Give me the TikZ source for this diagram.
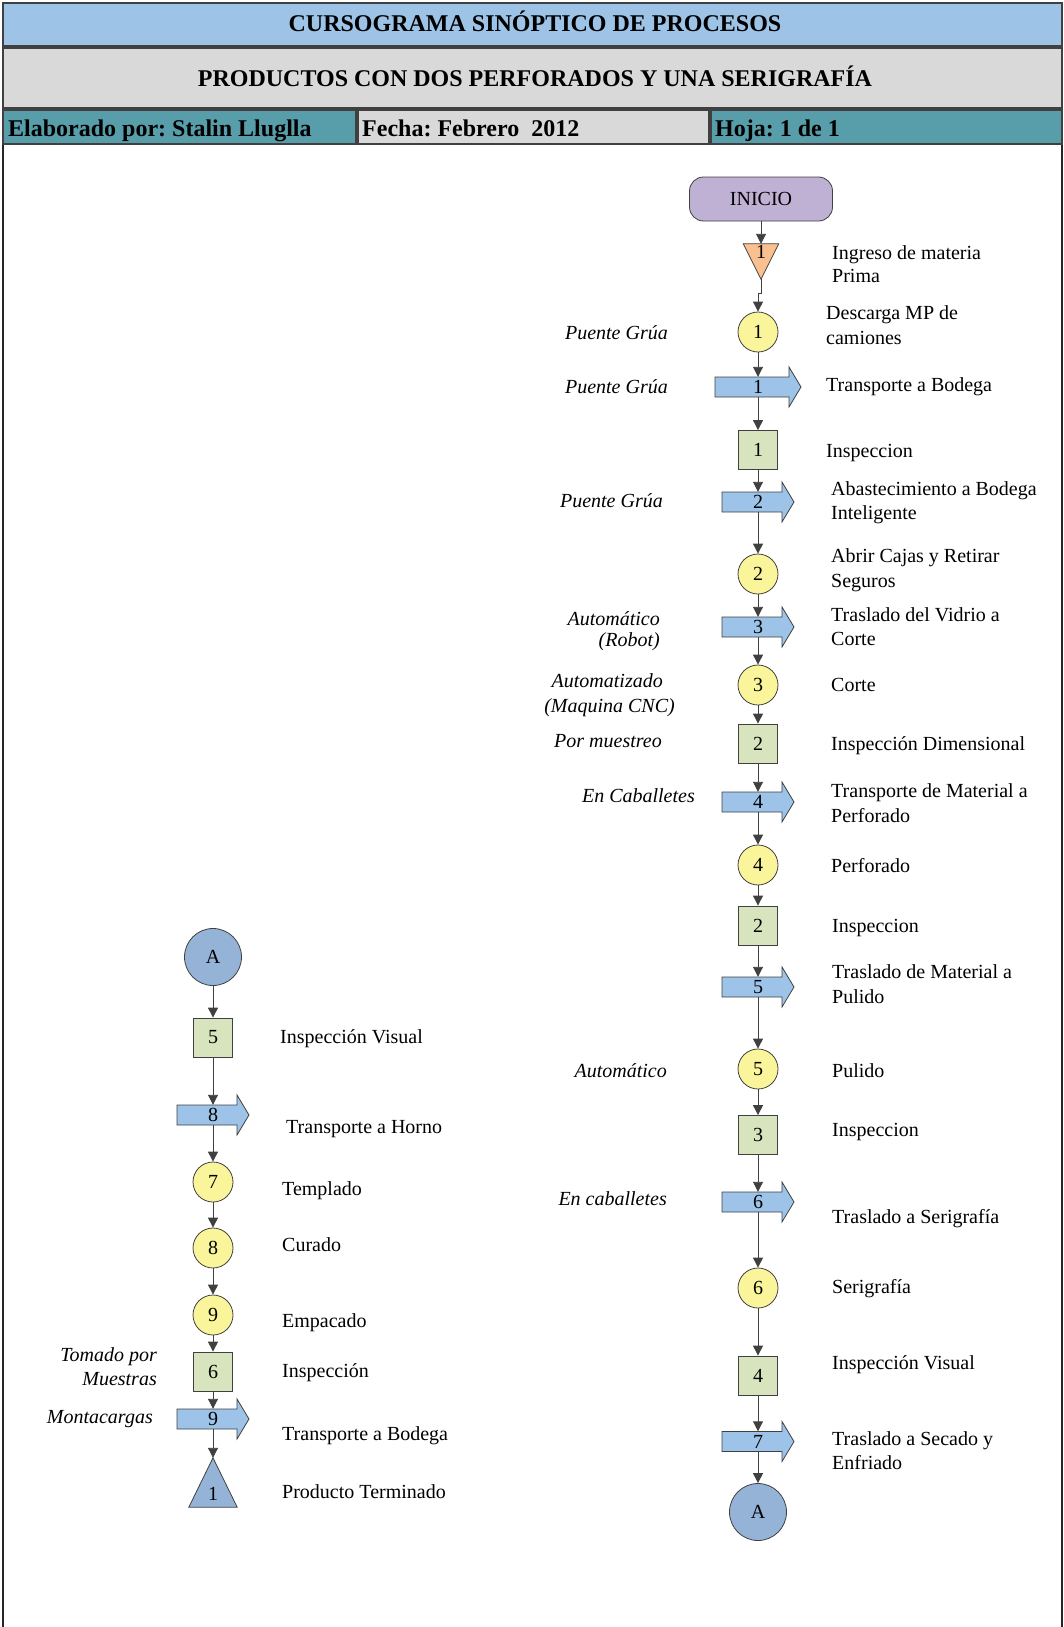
\documentclass[tikz,border=0pt]{standalone}
\usepackage{fontspec}
\setmainfont{Liberation Serif}
\usetikzlibrary{arrows.meta,calc}
\frenchspacing

\definecolor{hdrblue}{RGB}{157,195,230}
\definecolor{hdrgrey}{RGB}{217,217,217}
\definecolor{hdrteal}{RGB}{88,158,170}
\definecolor{opyellow}{RGB}{250,245,155}
\definecolor{inspgreen}{RGB}{215,228,189}
\definecolor{trblue}{RGB}{157,196,232}
\definecolor{conblue}{RGB}{149,179,215}
\definecolor{iniviolet}{RGB}{191,177,212}
\definecolor{almorange}{RGB}{250,192,144}
\definecolor{edge}{RGB}{64,64,64}

% transport symbol: #1 name, #2 x of flow line, #3 y, #4 overall length, #5 number
\newcommand\transporte[5]{%
  \path[tshape] ({#2-#4/2},{#3-10}) -- ({#2+#4/2-12},{#3-10}) -- ({#2+#4/2-12},{#3-20})
    -- ({#2+#4/2},{#3}) -- ({#2+#4/2-12},{#3+20}) -- ({#2+#4/2-12},{#3+10})
    -- ({#2-#4/2},{#3+10}) -- cycle;
  \node[tbody] (#1) at (#2,#3) {#5};
}

\begin{document}
\begin{tikzpicture}[x=1pt,y=-1pt,
  font=\fontsize{20}{24}\selectfont,
  hdr/.style={font=\fontsize{24}{28}\selectfont\bfseries, inner sep=0},
  cell/.style={draw=edge, line width=1.2pt},
  shp/.style={draw=edge, line width=0.8pt, inner sep=0},
  opcirc/.style={shp, circle, minimum size=40pt, fill=opyellow},
  inspbox/.style={shp, rectangle, minimum size=39pt, fill=inspgreen},
  conncirc/.style={shp, circle, minimum size=57pt, fill=conblue},
  tbody/.style={rectangle, minimum width=20pt, minimum height=20pt, inner sep=0},
  tshape/.style={draw=edge, line width=0.8pt, fill=trblue},
  conn/.style={draw=edge, line width=0.9pt, -{Triangle[length=10pt,width=10pt]}},
  desc/.style={anchor=base west, inner sep=0},
  means/.style={anchor=base east, inner sep=0, font=\fontsize{20}{24}\selectfont\itshape},
]
\useasboundingbox (0,0) rectangle (1064,1627);

% ---- form frame and header ----
\draw[line width=1.6pt, black!85] (3,1627) -- (3,3) -- (1062,3) -- (1062,1627);
\path[cell, fill=hdrblue] (3,3) rectangle (1062,46);
\path[cell, fill=hdrgrey] (3,48) rectangle (1062,108);
\path[cell, fill=hdrteal] (3,110) rectangle (356,144);
\path[cell, fill=hdrgrey] (358,110) rectangle (709,144);
\path[cell, fill=hdrteal] (711,110) rectangle (1062,144);

\node[hdr, anchor=base] (h1) at (535,32) {CURSOGRAMA SINÓPTICO DE PROCESOS};
\node[hdr, anchor=base] (h2) at (535,87) {PRODUCTOS CON DOS PERFORADOS Y UNA SERIGRAFÍA};
\node[hdr, anchor=base west] (h3) at (8,137) {Elaborado por: Stalin Lluglla};
\node[hdr, anchor=base west] (h4) at (362,137) {Fecha: Febrero\ \ 2012};
\node[hdr, anchor=base west] (h5) at (715,137) {Hoja: 1 de 1};

% ---- right column ----
\node[shp, rectangle, rounded corners=14pt, minimum width=143pt, minimum height=44pt,
      fill=iniviolet] (ini) at (761,199) {INICIO};
\node[minimum width=35pt, minimum height=35pt, inner sep=0] (alm) at (761,261.5) {};
\path[shp, fill=almorange] (alm.north west) -- (alm.north east) -- (alm.south) -- cycle;
\node[inner sep=0] (alm-n) at (761,252) {1};

\node[opcirc] (c1) at (758,332) {1};
\transporte{t1}{758}{387}{86}{1}
\node[inspbox] (i1) at (758,450) {1};
\transporte{t2}{758}{502}{72}{2}
\node[opcirc] (c2) at (758,574) {2};
\transporte{t3}{758}{627}{72}{3}
\node[opcirc] (c3) at (758,685) {3};
\node[inspbox] (i2) at (758,743.5) {2};
\transporte{t4}{758}{802}{72}{4}
\node[opcirc] (c4) at (758,865) {4};
\node[inspbox] (i2b) at (758,925.5) {2};
\transporte{t5}{758}{987}{72}{5}
\node[opcirc] (c5) at (758,1069) {5};
\node[inspbox] (i3) at (758,1135) {3};
\transporte{t6}{758}{1202}{72}{6}
\node[opcirc] (c6) at (758,1288) {6};
\node[inspbox] (i4) at (758,1375.5) {4};
\transporte{t7}{758}{1441.5}{72}{7}
\node[conncirc] (Ar) at (758,1512) {A};

\draw[conn] (ini) -- (alm);
\draw[conn] (alm.south) -- ++(0,14) -| (c1.north);
\draw[conn] (c1) -- (t1);
\draw[conn] (t1) -- (i1);
\draw[conn] (i1) -- (t2);
\draw[conn] (t2) -- (c2);
\draw[conn] (c2) -- (t3);
\draw[conn] (t3) -- (c3);
\draw[conn] (c3) -- (i2);
\draw[conn] (i2) -- (t4);
\draw[conn] (t4) -- (c4);
\draw[conn] (c4) -- (i2b);
\draw[conn] (i2b) -- (t5);
\draw[conn] (t5) -- (c5);
\draw[conn] (c5) -- (i3);
\draw[conn] (i3) -- (t6);
\draw[conn] (t6) -- (c6);
\draw[conn] (c6) -- (i4);
\draw[conn] (i4) -- (t7);
\draw[conn] (t7) -- (Ar);

% descriptions, right column
\node[desc] (d1a) at (832,259) {Ingreso de materia};
\node[desc] (d1b) at (832,282) {Prima};
\node[desc] (d2a) at (826,319) {Descarga MP de};
\node[desc] (d2b) at (826,344) {camiones};
\node[desc] (d3) at (826,391) {Transporte a Bodega};
\node[desc] (d4) at (826,457) {Inspeccion};
\node[desc] (d5a) at (831,495) {Abastecimiento a Bodega};
\node[desc] (d5b) at (831,519) {Inteligente};
\node[desc] (d6a) at (831,562) {Abrir Cajas y Retirar};
\node[desc] (d6b) at (831,587) {Seguros};
\node[desc] (d7a) at (831,621) {Traslado del Vidrio a};
\node[desc] (d7b) at (831,645) {Corte};
\node[desc] (d8) at (831,691) {Corte};
\node[desc] (d9) at (831,750) {Inspección Dimensional};
\node[desc] (d10a) at (831,797) {Transporte de Material a};
\node[desc] (d10b) at (831,822) {Perforado};
\node[desc] (d11) at (831,872) {Perforado};
\node[desc] (d12) at (832,932) {Inspeccion};
\node[desc] (d13a) at (832,978) {Traslado de Material a};
\node[desc] (d13b) at (832,1003) {Pulido};
\node[desc] (d14) at (832,1077) {Pulido};
\node[desc] (d15) at (832,1136) {Inspeccion};
\node[desc] (d16) at (832,1223) {Traslado a Serigrafía};
\node[desc] (d17) at (832,1293) {Serigrafía};
\node[desc] (d18) at (832,1369) {Inspección Visual};
\node[desc] (d19a) at (832,1445) {Traslado a Secado y};
\node[desc] (d19b) at (832,1469) {Enfriado};

% means of handling, right column
\node[means] (m1) at (668,339) {Puente Grúa};
\node[means] (m2) at (668,393) {Puente Grúa};
\node[means] (m3) at (663,507) {Puente Grúa};
\node[means] (m4a) at (660,625) {Automático};
\node[means] (m4b) at (660,646) {(Robot)};
\node[means] (m5a) at (663,687) {Automatizado};
\node[means] (m5b) at (675,712) {(Maquina CNC)};
\node[means] (m6) at (662,747) {Por muestreo};
\node[means] (m7) at (695,802) {En Caballetes};
\node[means] (m8) at (667,1077) {Automático};
\node[means] (m9) at (667,1205) {En caballetes};

% ---- left column ----
\node[conncirc] (Al) at (213,957) {A};
\node[inspbox] (i5) at (213,1037.5) {5};
\transporte{t8}{213}{1115}{72}{8}
\node[opcirc] (c7) at (213,1182) {7};
\node[opcirc] (c8) at (213,1248) {8};
\node[opcirc] (c9) at (213,1315) {9};
\node[inspbox] (i6) at (213,1371.5) {6};
\transporte{t9}{213}{1419}{72}{9}
\node[minimum width=48pt, minimum height=49pt, inner sep=0] (pt) at (213,1482.5) {};
\path[shp, fill=conblue] (pt.north) -- (pt.south east) -- (pt.south west) -- cycle;
\node[inner sep=0] (pt-n) at (213,1493.5) {1};

\draw[conn] (Al) -- (i5);
\draw[conn] (i5) -- (t8);
\draw[conn] (t8) -- (c7);
\draw[conn] (c7) -- (c8);
\draw[conn] (c8) -- (c9);
\draw[conn] (c9) -- (i6);
\draw[conn] (i6) -- (t9);
\draw[conn] (t9) -- (pt.north);

\node[desc] (e1) at (280,1043) {Inspección Visual};
\node[desc] (e2) at (286,1133) {Transporte a Horno};
\node[desc] (e3) at (282,1195) {Templado};
\node[desc] (e4) at (282,1251) {Curado};
\node[desc] (e5) at (282,1327) {Empacado};
\node[desc] (e6) at (282,1377) {Inspección};
\node[desc] (e7) at (282,1440) {Transporte a Bodega};
\node[desc] (e8) at (282,1498) {Producto Terminado};

\node[means] (n1a) at (157,1361) {Tomado por};
\node[means] (n1b) at (157,1385) {Muestras};
\node[means] (n2) at (153,1423) {Montacargas};
\end{tikzpicture}
\end{document}
